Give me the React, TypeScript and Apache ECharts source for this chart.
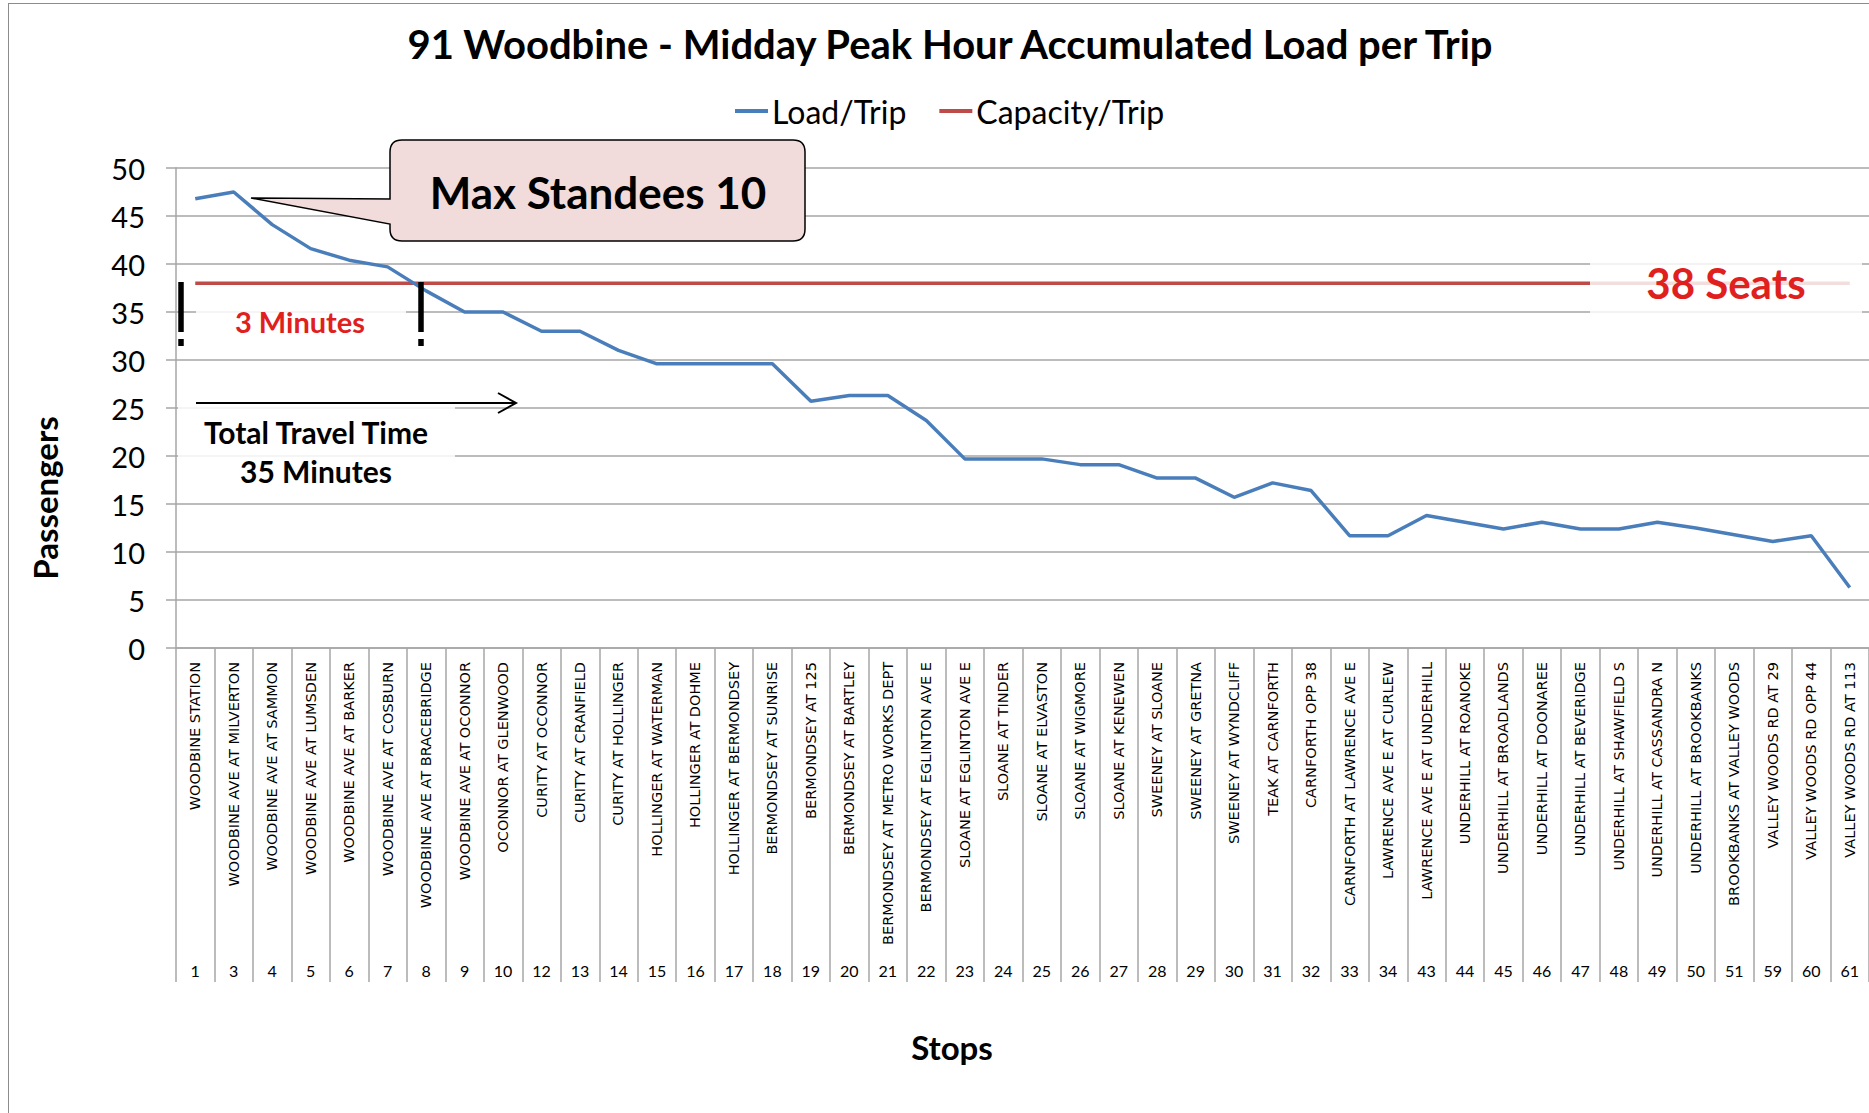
import React, { useEffect, useRef } from "react";
import * as echarts from "echarts";

const stopNames = [
  "WOODBINE STATION",
  "WOODBINE AVE AT MILVERTON",
  "WOODBINE AVE AT SAMMON",
  "WOODBINE AVE AT LUMSDEN",
  "WOODBINE AVE AT BARKER",
  "WOODBINE AVE AT COSBURN",
  "WOODBINE AVE AT BRACEBRIDGE",
  "WOODBINE AVE AT OCONNOR",
  "OCONNOR AT GLENWOOD",
  "CURITY AT OCONNOR",
  "CURITY AT CRANFIELD",
  "CURITY AT HOLLINGER",
  "HOLLINGER AT WATERMAN",
  "HOLLINGER AT DOHME",
  "HOLLINGER AT BERMONDSEY",
  "BERMONDSEY AT SUNRISE",
  "BERMONDSEY AT 125",
  "BERMONDSEY AT BARTLEY",
  "BERMONDSEY AT METRO WORKS DEPT",
  "BERMONDSEY AT EGLINTON AVE E",
  "SLOANE AT EGLINTON AVE E",
  "SLOANE AT TINDER",
  "SLOANE AT ELVASTON",
  "SLOANE AT WIGMORE",
  "SLOANE AT KENEWEN",
  "SWEENEY AT SLOANE",
  "SWEENEY AT GRETNA",
  "SWEENEY AT WYNDCLIFF",
  "TEAK AT CARNFORTH",
  "CARNFORTH OPP 38",
  "CARNFORTH AT LAWRENCE AVE E",
  "LAWRENCE AVE E AT CURLEW",
  "LAWRENCE AVE E AT UNDERHILL",
  "UNDERHILL AT ROANOKE",
  "UNDERHILL AT BROADLANDS",
  "UNDERHILL AT DOONAREE",
  "UNDERHILL AT BEVERIDGE",
  "UNDERHILL AT SHAWFIELD S",
  "UNDERHILL AT CASSANDRA N",
  "UNDERHILL AT BROOKBANKS",
  "BROOKBANKS AT VALLEY WOODS",
  "VALLEY WOODS RD AT 29",
  "VALLEY WOODS RD OPP 44",
  "VALLEY WOODS RD AT 113",
];

const stopNumbers = [
  "1", "3", "4", "5", "6", "7", "8", "9", "10", "12", "13", "14", "15", "16", "17",
  "18", "19", "20", "21", "22", "23", "24", "25", "26", "27", "28", "29", "30", "31",
  "32", "33", "34", "43", "44", "45", "46", "47", "48", "49", "50", "51", "59", "60", "61",
];

const loadPerTrip = [
  46.8, 47.5, 44.1, 41.6, 40.4, 39.7, 37.2, 35.0, 35.0, 33.0, 33.0, 31.0, 29.6, 29.6,
  29.6, 29.6, 25.7, 26.3, 26.3, 23.7, 19.7, 19.7, 19.7, 19.1, 19.1, 17.7, 17.7, 15.7,
  17.2, 16.4, 11.7, 11.7, 13.8, 13.1, 12.4, 13.1, 12.4, 12.4, 13.1, 12.5, 11.8, 11.1,
  11.7, 6.3,
];

const capacityPerTrip = stopNumbers.map(() => 38);

const yTicks = { min: 0, max: 50, interval: 5 };

const CALLOUT_D =
  "M 402 140 H 793 Q 805 140 805 152 V 229 Q 805 241 793 241 H 402 Q 390 241 390 229 V 224 L 251 198 L 390 199 V 152 Q 390 140 402 140 Z";

let registered = false;
function ensureShapes() {
  if (registered) return;
  echarts.graphic.registerShape("callout", echarts.graphic.extendPath(CALLOUT_D, {}));
  registered = true;
}

const FONT = "Lato, 'Open Sans', sans-serif";
const GRID = "#a6a6a6";

export default function App() {
  const ref = useRef<HTMLDivElement>(null);

  useEffect(() => {
    if (!ref.current) return;
    ensureShapes();
    const chart = echarts.init(ref.current, undefined, { renderer: "svg" });
    chart.setOption({
      animation: false,
      backgroundColor: "#ffffff",
      textStyle: { fontFamily: FONT },
      legend: {
        data: ["Load/Trip", "Capacity/Trip"],
        left: 730,
        top: 90,
        icon: "rect",
        itemWidth: 33,
        itemHeight: 4,
        itemGap: 33,
        textStyle: { fontFamily: FONT, fontSize: 32, color: "#000", padding: [0, 0, 0, -1] },
      },
      grid: { left: 176, top: 168, width: 1694, height: 480, containLabel: false },
      xAxis: [
        {
          type: "category",
          data: stopNames,
          boundaryGap: true,
          position: "bottom",
          axisLine: { show: true, lineStyle: { color: GRID, width: 1.5 } },
          axisTick: {
            show: true,
            interval: 0,
            length: 334,
            lineStyle: { color: GRID, width: 1.5 },
          },
          axisLabel: {
            interval: 0,
            rotate: 90,
            margin: 14,
            fontSize: 14.5,
            fontFamily: "'DejaVu Sans', Verdana, sans-serif",
            color: "#000",
          },
          splitLine: { show: false },
        },
        {
          type: "category",
          data: stopNumbers,
          boundaryGap: true,
          position: "bottom",
          offset: 306,
          gridIndex: 0,
          axisLine: { show: false },
          axisTick: { show: false },
          axisLabel: { interval: 0, margin: 8, fontSize: 16, fontFamily: FONT, color: "#000" },
        },
      ],
      yAxis: {
        type: "value",
        min: yTicks.min,
        max: yTicks.max,
        interval: yTicks.interval,
        axisLine: { show: true, lineStyle: { color: GRID, width: 1.5 } },
        axisTick: { show: true, length: 10, lineStyle: { color: GRID, width: 1.5 } },
        axisLabel: { margin: 31, fontSize: 29, fontFamily: FONT, color: "#000" },
        splitLine: { show: true, lineStyle: { color: GRID, width: 1.5 } },
      },
      series: [
        {
          name: "Load/Trip",
          type: "line",
          xAxisIndex: 0,
          data: loadPerTrip,
          symbol: "none",
          lineStyle: { color: "#4a7ebb", width: 3.5 },
          itemStyle: { color: "#4a7ebb" },
          z: 3,
        },
        {
          name: "Capacity/Trip",
          type: "line",
          xAxisIndex: 0,
          data: capacityPerTrip,
          symbol: "none",
          lineStyle: { color: "#be4b48", width: 3.5 },
          itemStyle: { color: "#be4b48" },
          z: 2,
        },
      ],
      graphic: [
        { type: "line", shape: { x1: 8.5, y1: 3, x2: 8.5, y2: 1113 }, style: { stroke: "#8c8c8c", lineWidth: 1 }, z: 1 },
        { type: "line", shape: { x1: 8, y1: 3.5, x2: 1869, y2: 3.5 }, style: { stroke: "#8c8c8c", lineWidth: 1 }, z: 1 },
        {
          type: "text",
          x: 950,
          y: 44,
          style: {
            text: "91 Woodbine - Midday Peak Hour Accumulated Load per Trip",
            fontFamily: FONT,
            fontWeight: "bold",
            fontSize: 40,
            fill: "#000",
            align: "center",
            verticalAlign: "middle",
          },
          z: 10,
        },
        {
          type: "text",
          x: 45,
          y: 498,
          rotation: Math.PI / 2,
          style: {
            text: "Passengers",
            fontFamily: FONT,
            fontWeight: "bold",
            fontSize: 33,
            fill: "#000",
            align: "center",
            verticalAlign: "middle",
          },
          z: 10,
        },
        {
          type: "text",
          x: 952,
          y: 1047,
          style: {
            text: "Stops",
            fontFamily: FONT,
            fontWeight: "bold",
            fontSize: 33,
            fill: "#000",
            align: "center",
            verticalAlign: "middle",
          },
          z: 10,
        },
        {
          type: "rect",
          shape: { x: 1590, y: 258, width: 272, height: 60 },
          style: { fill: "rgba(255,255,255,0.82)" },
          z: 50,
        },
        {
          type: "text",
          x: 1726,
          y: 283,
          style: {
            text: "38 Seats",
            fontFamily: FONT,
            fontWeight: "bold",
            fontSize: 42,
            fill: "#e0201d",
            align: "center",
            verticalAlign: "middle",
          },
          z: 51,
        },
        {
          type: "rect",
          shape: { x: 196, y: 296, width: 210, height: 48 },
          style: { fill: "rgba(255,255,255,0.85)" },
          z: 50,
        },
        {
          type: "text",
          x: 300,
          y: 321,
          style: {
            text: "3 Minutes",
            fontFamily: FONT,
            fontWeight: "bold",
            fontSize: 29,
            fill: "#e0201d",
            align: "center",
            verticalAlign: "middle",
          },
          z: 51,
        },
        { type: "line", shape: { x1: 181, y1: 282, x2: 181, y2: 332 }, style: { stroke: "#000", lineWidth: 5.5 }, z: 52 },
        { type: "line", shape: { x1: 181, y1: 339, x2: 181, y2: 346 }, style: { stroke: "#000", lineWidth: 5.5 }, z: 52 },
        { type: "line", shape: { x1: 421, y1: 282, x2: 421, y2: 332 }, style: { stroke: "#000", lineWidth: 5.5 }, z: 52 },
        { type: "line", shape: { x1: 421, y1: 339, x2: 421, y2: 346 }, style: { stroke: "#000", lineWidth: 5.5 }, z: 52 },
        {
          type: "rect",
          shape: { x: 178, y: 398, width: 277, height: 92 },
          style: { fill: "rgba(255,255,255,0.85)" },
          z: 50,
        },
        { type: "line", shape: { x1: 196, y1: 403, x2: 515, y2: 403 }, style: { stroke: "#000", lineWidth: 2 }, z: 52 },
        {
          type: "polyline",
          shape: { points: [[498, 393], [516, 403], [498, 413]] },
          style: { stroke: "#000", lineWidth: 2, fill: "none" },
          z: 52,
        },
        {
          type: "text",
          x: 316,
          y: 432,
          style: {
            text: "Total Travel Time",
            fontFamily: FONT,
            fontWeight: "bold",
            fontSize: 30,
            fill: "#000",
            align: "center",
            verticalAlign: "middle",
          },
          z: 52,
        },
        {
          type: "text",
          x: 316,
          y: 471,
          style: {
            text: "35 Minutes",
            fontFamily: FONT,
            fontWeight: "bold",
            fontSize: 30,
            fill: "#000",
            align: "center",
            verticalAlign: "middle",
          },
          z: 52,
        },
        {
          type: "callout",
          x: 0,
          y: 0,
          style: { fill: "#f2dcdb", stroke: "#000", lineWidth: 1.5 },
          z: 60,
        },
        {
          type: "text",
          x: 598,
          y: 192,
          style: {
            text: "Max Standees 10",
            fontFamily: FONT,
            fontWeight: "bold",
            fontSize: 44,
            fill: "#000",
            align: "center",
            verticalAlign: "middle",
          },
          z: 61,
        },
      ],
    });
    return () => chart.dispose();
  }, []);

  return (
    <div
      ref={ref}
      style={{ position: "fixed", left: 0, top: 0, width: 1869, height: 1113 }}
    />
  );
}
